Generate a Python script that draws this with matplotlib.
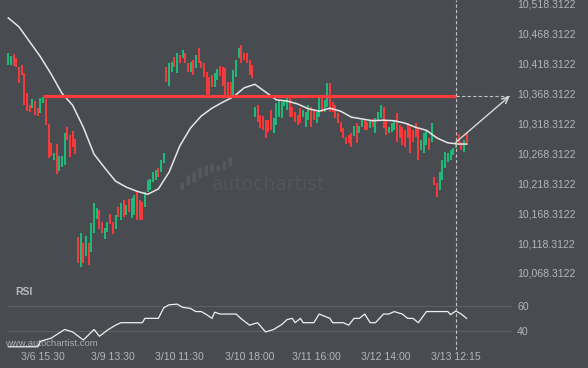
import matplotlib.pyplot as plt
import numpy as np
from matplotlib.patches import FancyBboxPatch

plt.rcParams['font.family'] = ['Liberation Sans', 'DejaVu Sans']

# candles (one per bar, open / close)
opens = [10416, 10416, 10435, 10428, 10413, 10416, 10403, 10369, 10349, 10344,
         10356, 10344, 10336, 10353, 10359, 10318, 10286, 10257, 10284, 10239,
         10246, 10249, 10313, 10299, 10306, 10293, 10129, 10078, 10118, 10097,
         10118, 10103, 10135, 10159, 10174, 10154, 10125, 10137, 10167, 10154,
         10142, 10179, 10157, 10190, 10165, 10192, 10160, 10165, 10205, 10190,
         10187, 10179, 10204, 10207, 10220, 10224, 10244, 10237, 10252, 10413,
         10381, 10405, 10430, 10403, 10433, 10428, 10436, 10420, 10405, 10425,
         10411, 10445, 10423, 10420, 10405, 10396, 10400, 10380, 10391, 10415,
         10413, 10411, 10388, 10388, 10366, 10396, 10428, 10450, 10436, 10436,
         10425, 10416, 10329, 10349, 10333, 10331, 10324, 10324, 10341, 10302,
         10316, 10329, 10328, 10348, 10341, 10361, 10346, 10338, 10333, 10344,
         10329, 10312, 10324, 10346, 10341, 10319, 10329, 10361, 10338, 10346,
         10386, 10354, 10349, 10336, 10321, 10311, 10296, 10299, 10303, 10297,
         10319, 10303, 10313, 10326, 10321, 10311, 10326, 10303, 10324, 10328,
         10346, 10324, 10303, 10304, 10308, 10336, 10316, 10313, 10308, 10319,
         10313, 10308, 10319, 10311, 10274, 10269, 10282, 10294, 10287, 10229,
         10219, 10207, 10224, 10244, 10254, 10257, 10266, 10277, 10301, 10287,
         10271, 10303]
closes = [10436, 10431, 10415, 10413, 10386, 10400, 10349, 10339, 10338, 10359,
          10333, 10331, 10361, 10363, 10316, 10261, 10264, 10269, 10234, 10264,
          10264, 10303, 10291, 10262, 10279, 10267, 10085, 10135, 10085, 10130,
          10082, 10152, 10185, 10177, 10142, 10135, 10144, 10154, 10150, 10134,
          10165, 10162, 10185, 10162, 10182, 10170, 10194, 10199, 10157, 10157,
          10157, 10204, 10224, 10226, 10237, 10241, 10229, 10257, 10269, 10388,
          10420, 10421, 10413, 10436, 10420, 10441, 10420, 10405, 10421, 10400,
          10433, 10420, 10411, 10396, 10366, 10366, 10380, 10403, 10410, 10398,
          10381, 10363, 10361, 10363, 10408, 10425, 10445, 10420, 10425, 10420,
          10400, 10395, 10346, 10321, 10311, 10308, 10294, 10304, 10308, 10328,
          10353, 10358, 10354, 10358, 10363, 10329, 10329, 10321, 10316, 10319,
          10341, 10338, 10349, 10312, 10324, 10338, 10361, 10338, 10358, 10386,
          10338, 10338, 10328, 10319, 10304, 10294, 10284, 10286, 10279, 10314,
          10286, 10314, 10324, 10308, 10308, 10324, 10313, 10328, 10338, 10349,
          10311, 10299, 10313, 10319, 10324, 10287, 10294, 10282, 10279, 10294,
          10269, 10287, 10296, 10257, 10291, 10303, 10308, 10274, 10319, 10215,
          10195, 10237, 10257, 10271, 10269, 10274, 10277, 10287, 10286, 10274,
          10291, 10282]

# moving average
ma_idx = [0, 4, 8, 12, 16, 20, 24, 28, 32, 36, 40, 44, 48, 52, 56, 60, 64, 68,
          72, 76, 80, 84, 88, 92, 96, 100, 104, 108, 112, 116, 120, 124, 128,
          132, 136, 140, 144, 148, 152, 156, 160, 164, 168, 171]
ma_val = [10495, 10480, 10455, 10430, 10401, 10369, 10349, 10312, 10267, 10244,
          10222, 10212, 10205, 10200, 10209, 10237, 10281, 10311, 10331, 10344,
          10354, 10363, 10378, 10384, 10371, 10358, 10356, 10351, 10343, 10339,
          10344, 10339, 10329, 10326, 10323, 10324, 10323, 10319, 10312, 10307,
          10294, 10286, 10284, 10284]

# RSI
rsi_idx = [0, 11, 12, 16, 21, 24, 28, 32, 34, 37, 40, 42, 50, 51, 56, 58, 60, 63,
           65, 68, 70, 72, 74, 76, 77, 79, 85, 87, 90, 93, 96, 99, 102, 104, 106,
           107, 109, 110, 114, 116, 120, 121, 125, 127, 129, 131, 133, 135, 137,
           140, 142, 144, 147, 149, 151, 153, 156, 164, 165, 167, 169, 171]
rsi_val = [27, 27, 31.5, 34, 41, 39, 32.5, 41, 35.5, 40.5, 44.5, 46.5, 46.5, 50,
           50, 58.5, 61, 61.5, 59, 58, 55.5, 55.5, 53, 50, 55, 53.5, 53.5, 49.5,
           44.5, 46.5, 39, 41, 45, 49, 50, 46.5, 50, 46.5, 46.5, 53.5, 50, 46.5,
           46.5, 44.5, 50, 50, 53.5, 46.5, 46.5, 53.5, 53.5, 55.5, 53.5, 50, 50,
           46.5, 55.5, 55.5, 53, 56, 53.5, 50]
rsi_levels = [40, 60]

resistance = 10364.0
line_start = 13
line_end = 167       # current bar
target_idx = 187

price_ticks = [10068.3122, 10118.3122, 10168.3122, 10218.3122, 10268.3122,
               10318.3122, 10368.3122, 10418.3122, 10468.3122, 10518.3122]
time_idx = [13, 39, 64, 90, 115, 141, 167]
time_labels = ['3/6 15:30', '3/9 13:30', '3/10 11:30', '3/10 18:00',
               '3/11 16:00', '3/12 14:00', '3/13 12:15']

bg = '#484b50'
txt = '#b3b6bb'
green = '#1cc07c'
red = '#ff3b3b'

fig = plt.figure(figsize=(5.88, 3.68), dpi=100, facecolor=bg)

# watermark layer, pixel coords
wm = fig.add_axes([0, 0, 1, 1], zorder=0)
wm.set_xlim(0, 588)
wm.set_ylim(368, 0)
wm.axis('off')
logo_bars = [(181, 183, 189), (187, 176, 185), (193, 172, 182), (199, 168, 178),
             (205, 166, 175), (211, 164, 172), (217, 166, 171), (223, 162, 170),
             (229, 158, 166)]
for x0, y0, y1 in logo_bars:
    wm.add_patch(FancyBboxPatch((x0, y0), 2.4, y1 - y0, boxstyle='round,pad=0.6',
                                fc='#56595e', ec='none'))
wm.text(212, 185, 'autochartist', fontsize=13.5, color='#525559',
        family='DejaVu Sans', va='center', ha='left')
wm.text(5, 344, 'www.autochartist.com', fontsize=6.8, color='#a9acb1',
        va='center', ha='left')
wm.text(15, 292, 'RSI', fontsize=7.5, fontweight='bold', color='#b8bbc0',
        va='center', ha='left')

xlim = (-3.097, 187.94)

# price panel
ax = fig.add_axes([0, 83 / 368, 512 / 588, 285 / 368], zorder=1)
ax.set_facecolor('none')
idx = np.arange(len(opens))
o = np.array(opens)
c = np.array(closes)
cols = np.where(c >= o, green, red)
ax.vlines(idx, np.minimum(o, c), np.maximum(o, c), colors=cols, lw=1.35)
ax.plot(ma_idx, ma_val, color='#e6e6e6', lw=1.1)
ax.hlines(resistance, line_start, line_end, color=red, lw=2.3)
ax.hlines(resistance, line_end, target_idx + 1, color='#c4c4c4', lw=0.8,
          linestyles=(0, (3, 2)))
ax.axvline(line_end, color='#c4c4c4', lw=0.8, ls=(0, (3, 2)))
ax.annotate('', xy=(target_idx, resistance), xytext=(line_end, closes[line_end]),
            arrowprops=dict(arrowstyle='->', color='#dcdcdc', lw=1.0,
                            mutation_scale=11, shrinkA=0, shrinkB=0))
ax.set_xlim(*xlim)
ax.set_ylim(10048.2, 10525.0)
ax.set_xticks([])
ax.yaxis.tick_right()
ax.set_yticks(price_ticks)
ax.set_yticklabels(['{:,.4f}'.format(v) for v in price_ticks])
ax.tick_params(axis='y', length=0, pad=3.6, labelsize=7.6, labelcolor=txt)
for s in ax.spines.values():
    s.set_visible(False)

# RSI panel
rax = fig.add_axes([0, 18 / 368, 512 / 588, 65 / 368], zorder=1)
rax.set_facecolor('none')
rax.hlines(rsi_levels, -0.5, xlim[1], color='#5c5f64', lw=0.8)
rax.plot(rsi_idx, rsi_val, color='#f0f0f0', lw=0.9)
rax.axvline(line_end, color='#c4c4c4', lw=0.8, ls=(0, (3, 2)))
rax.set_xlim(*xlim)
rax.set_ylim(24.4, 77.0)
rax.yaxis.tick_right()
rax.set_yticks(rsi_levels)
rax.set_xticks(time_idx)
rax.set_xticklabels(time_labels)
rax.tick_params(axis='y', length=0, pad=3.6, labelsize=7.6, labelcolor=txt)
rax.tick_params(axis='x', length=0, pad=1.5, labelsize=7.6, labelcolor=txt)
for s in rax.spines.values():
    s.set_visible(False)

fig.savefig('out.png', dpi=100, facecolor=bg)
